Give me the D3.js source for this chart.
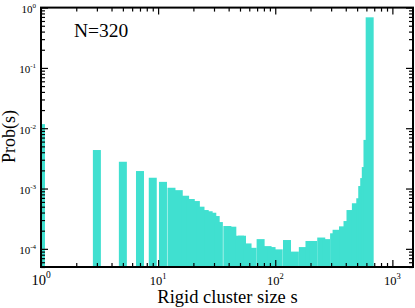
<!DOCTYPE html>
<html>
<head>
<meta charset="utf-8">
<script src="https://cdn.jsdelivr.net/npm/d3@7"></script>
<style>
  body { margin: 0; background: #fff; }
  svg { display: block; font-family: "Liberation Serif", "Times New Roman", serif; }
  .tick line { stroke: #000; stroke-width: 1.2; }
</style>
</head>
<body>
<div id="chart"></div>
<script>
// cluster sizes s and their probability
var sizes = [1, 3, 5, 7, 9, 11,
  13, 15, 17, 19, 21, 23, 25, 27, 29, 31, 33, 39, 43, 50, 52, 58, 64, 75,
  86, 93, 107, 126, 147, 172, 196, 211, 247, 272, 318, 334, 379, 414, 439,
  488, 532, 553, 575, 593, 613, 640];
var probs = [0.0117, 0.00435, 0.00278, 0.00195, 0.00151, 0.00129,
  1.03e-3, 9.4e-4, 7.6e-4, 6.7e-4, 6.2e-4, 5.0e-4, 4.4e-4, 4.2e-4, 3.97e-4, 3.5e-4, 2.78e-4, 2.39e-4, 2.33e-4, 1.65e-4, 1.65e-4, 1.23e-4, 1.04e-4, 1.45e-4,
  1.11e-4, 1.07e-4, 9.8e-5, 1.40e-4, 9.0e-5, 1.07e-4, 1.35e-4, 1.35e-4, 1.54e-4, 1.45e-4, 1.81e-4, 2.07e-4, 2.36e-4, 2.89e-4, 4.4e-4,
  5.7e-4, 6.9e-4, 1.10e-3, 1.49e-3, 2.27e-3, 6.4e-3, 0.69];

var xMajor = [1, 10, 100, 1000];
var xExp = ["0", "1", "2", "3"];
var yMajor = [1e-4, 1e-3, 1e-2, 1e-1, 1];
var yExp = ["-4", "-3", "-2", "-1", "0"];
var label = "N=320";

var W = 415, H = 308;
var plotL = 41, plotR = 413, plotT = 7.6, plotB = 267;
var barW = 8;

var x = d3.scaleLog().domain([1, 1500]).range([plotL, plotR]);
var y = d3.scaleLog().domain([5e-5, 1]).range([plotB, plotT]);

function minors(scale) {
  var d = scale.domain(), out = [];
  var lo = Math.floor(Math.log10(d[0])), hi = Math.ceil(Math.log10(d[1]));
  for (var e = lo; e < hi; e++) {
    for (var m = 2; m <= 9; m++) {
      var v = m * Math.pow(10, e);
      if (v >= d[0] && v <= d[1]) out.push(v);
    }
  }
  return out;
}

var svg = d3.select("#chart").append("svg")
    .attr("width", W)
    .attr("height", H);

svg.append("clipPath").attr("id", "clip")
  .append("rect")
    .attr("x", plotL).attr("y", plotT)
    .attr("width", plotR - plotL).attr("height", plotB - plotT);

svg.append("g")
    .attr("clip-path", "url(#clip)")
  .selectAll("rect")
    .data(sizes)
  .enter().append("rect")
    .attr("x", function(d) { return x(d) - barW / 2; })
    .attr("width", barW)
    .attr("y", function(d, i) { return y(probs[i]); })
    .attr("height", function(d, i) { return plotB - y(probs[i]); })
    .attr("fill", "#40e0d0");

// ticks on all four sides, pointing inward
function ticks(axisFn, scale, vals, size, transform) {
  var g = svg.append("g")
      .attr("transform", transform)
      .call(axisFn(scale).tickValues(vals).tickSize(-size).tickFormat(""));
  g.select(".domain").remove();
}
ticks(d3.axisBottom, x, xMajor, 7, "translate(0," + plotB + ")");
ticks(d3.axisBottom, x, minors(x), 4, "translate(0," + plotB + ")");
ticks(d3.axisTop, x, xMajor, 7, "translate(0," + plotT + ")");
ticks(d3.axisTop, x, minors(x), 4, "translate(0," + plotT + ")");
ticks(d3.axisLeft, y, yMajor, 7, "translate(" + plotL + ",0)");
ticks(d3.axisLeft, y, minors(y), 4, "translate(" + plotL + ",0)");
ticks(d3.axisRight, y, yMajor, 7, "translate(" + plotR + ",0)");
ticks(d3.axisRight, y, minors(y), 4, "translate(" + plotR + ",0)");

svg.append("rect")
    .attr("x", plotL).attr("y", plotT)
    .attr("width", plotR - plotL).attr("height", plotB - plotT)
    .attr("fill", "none")
    .attr("stroke", "#000")
    .attr("stroke-width", 2);

// tick labels
xMajor.forEach(function(v, i) {
  var big = i == 0;
  var t = svg.append("text")
      .attr("x", x(v))
      .attr("y", 285)
      .attr("text-anchor", "middle")
      .style("font-size", big ? "14.5px" : "12.5px")
      .text("10");
  t.append("tspan")
      .attr("dy", big ? -7 : -6)
      .style("font-size", big ? "9.5px" : "8.5px")
      .text(xExp[i]);
});

yMajor.forEach(function(v, i) {
  var t = svg.append("text")
      .attr("x", 36)
      .attr("y", y(v) + 5.5)
      .attr("text-anchor", "end")
      .style("font-size", "11px")
      .text("10");
  t.append("tspan")
      .attr("dy", -5)
      .style("font-size", "7px")
      .text(yExp[i]);
});

svg.append("text")
    .attr("x", 227.5)
    .attr("y", 302.5)
    .attr("text-anchor", "middle")
    .style("font-size", "18.5px")
    .text("Rigid cluster size s");

svg.append("text")
    .attr("transform", "translate(15," + 136.5 + ") rotate(-90)")
    .attr("text-anchor", "middle")
    .style("font-size", "18px")
    .text("Prob(s)");

svg.append("text")
    .attr("x", 74)
    .attr("y", 37.3)
    .style("font-size", "19.5px")
    .text(label);
</script>
</body>
</html>
